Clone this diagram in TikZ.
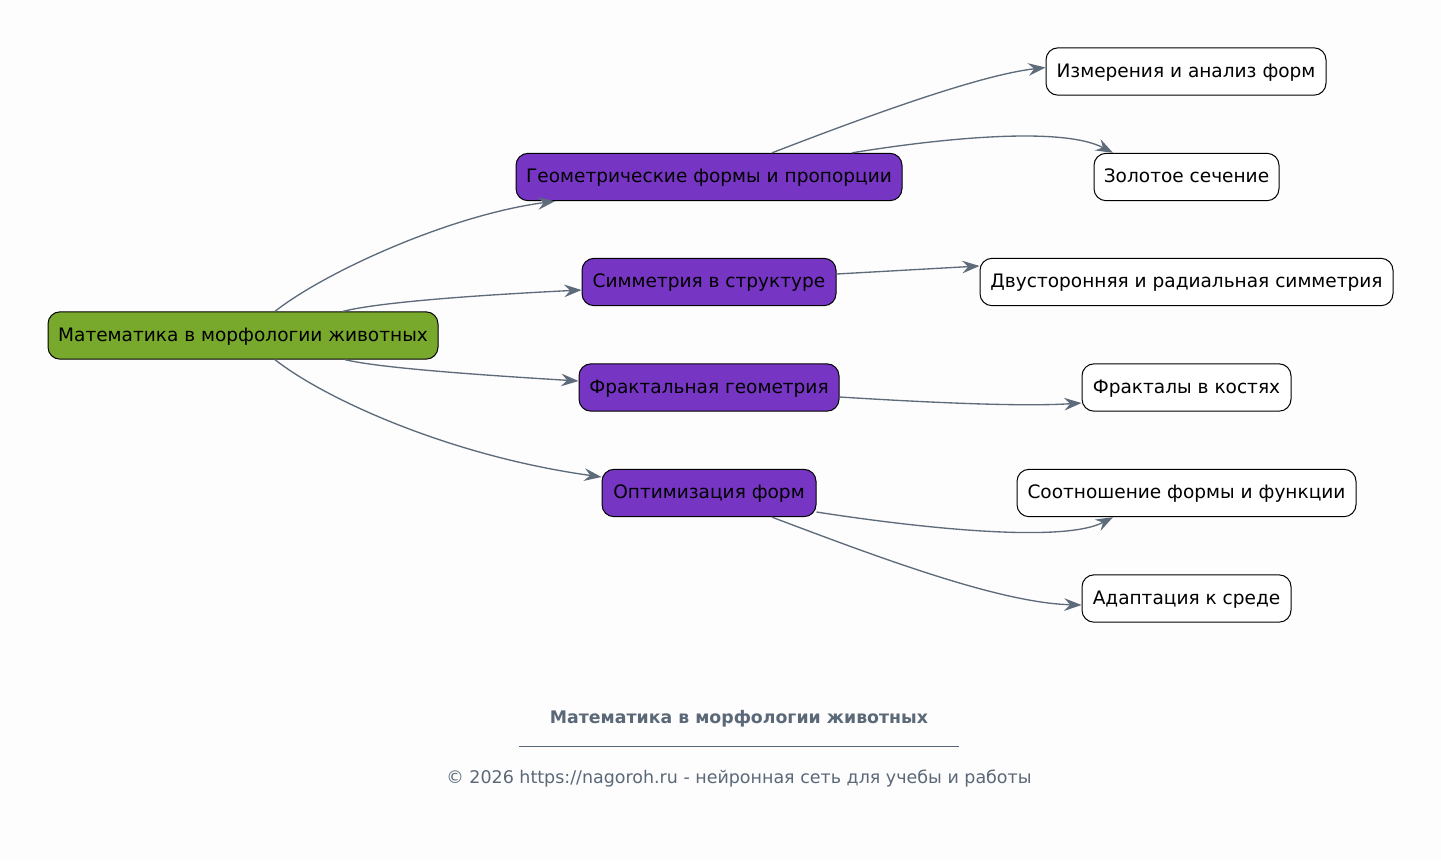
\documentclass[tikz,border=0pt]{standalone}
\usepackage{fontspec}
\setmainfont{DejaVu Sans}
\usetikzlibrary{arrows.meta,calc}
\definecolor{bgc}{HTML}{FDFDFD}
\definecolor{rootc}{HTML}{78A92C}
\definecolor{purc}{HTML}{7735C4}
\definecolor{edgec}{HTML}{5E6B7A}
\definecolor{footc}{HTML}{5A6878}
\tikzset{
  box/.style={draw=black, line width=0.75pt, rounded corners=9pt, minimum height=35.5pt, inner sep=0pt, text height=10.8pt, text depth=2.2pt, font=\fontsize{13.9}{16}\selectfont, text=black},
  rootbox/.style={box, fill=rootc},
  midbox/.style={box, fill=purc},
  leafbox/.style={box, fill=white},
  conn/.style={draw=edgec, line width=1pt, -{Stealth[length=13pt,width=9.5pt,inset=4.5pt]}},
}
\begin{document}
\begin{tikzpicture}[x=0.75pt,y=-0.75pt]
\fill[bgc] (0,0) rectangle (1441,861);
\useasboundingbox (0,0) rectangle (1441,861);

\node[rootbox, minimum width=292.5pt] (root) at (243,335.5) {Математика в морфологии животных};
\node[midbox, minimum width=289.5pt] (geom) at (709,177) {Геометрические формы и пропорции};
\node[midbox, minimum width=190.5pt] (sym) at (709,282) {Симметрия в структуре};
\node[midbox, minimum width=195pt] (fract) at (709,387.5) {Фрактальная геометрия};
\node[midbox, minimum width=160.5pt] (opt) at (709,493) {Оптимизация форм};

\node[leafbox, minimum width=210pt] (izm) at (1186,71.5) {Измерения и анализ форм};
\node[leafbox, minimum width=138.75pt] (zol) at (1186.5,177) {Золотое сечение};
\node[leafbox, minimum width=309.75pt] (dvu) at (1186.5,282) {Двусторонняя и радиальная симметрия};
\node[leafbox, minimum width=156.75pt] (frk) at (1186.5,387.5) {Фракталы в костях};
\node[leafbox, minimum width=254.25pt] (soot) at (1186.5,493) {Соотношение формы и функции};
\node[leafbox, minimum width=156.75pt] (adp) at (1186.5,598.5) {Адаптация к среде};

% root edges
\draw[conn] ($(root.north)+(32,0)$) .. controls (325,272) and (450,215) .. ($(geom.south)+(-154,0)$);
\draw[conn] ($(root.north)+(100,0)$) .. controls (380,302) and (480,295) .. ($(sym.west)+(0,8)$);
\draw[conn] ($(root.south)+(102,0)$) .. controls (380,368) and (480,375) .. ($(fract.west)+(0,-6.5)$);
\draw[conn] ($(root.south)+(32,0)$) .. controls (325,399) and (450,456) .. ($(opt.west)+(0,-16)$);

% geom edges
\draw[conn] ($(geom.north)+(63,0)$) .. controls (870,115) and (980,75) .. ($(izm.west)+(0,-4)$);
\draw[conn] ($(geom.north)+(143,0)$) .. controls (930,140) and (1060,125) .. ($(zol.north)+(-73.5,0)$);
% sym
\draw[conn] ($(sym.east)+(0,-8)$) -- ($(dvu.west)+(0,-16)$);
% fract
\draw[conn] ($(fract.east)+(0,9.5)$) .. controls (920,402) and (1020,407) .. ($(frk.west)+(0,15.5)$);
% opt
\draw[conn] ($(opt.east)+(0,19)$) .. controls (900,525) and (1060,545) .. ($(soot.south)+(-73.5,0)$);
\draw[conn] ($(opt.south)+(63,0)$) .. controls (880,558) and (1000,603) .. ($(adp.west)+(0,6.5)$);

% footer
\node[font=\bfseries\fontsize{13}{15}\selectfont, text=footc] (ftitle) at (739,718.5) {Математика в морфологии животных};
\coordinate (la) at (519,746);
\coordinate (lb) at (959,746);
\draw[footc, line width=0.75pt] (la) -- (lb);
\node[font=\fontsize{13.1}{15}\selectfont, text=footc] (fcopy) at (739,778.5) {© 2026 https://nagoroh.ru - нейронная сеть для учебы и работы};
\end{tikzpicture}
\end{document}
